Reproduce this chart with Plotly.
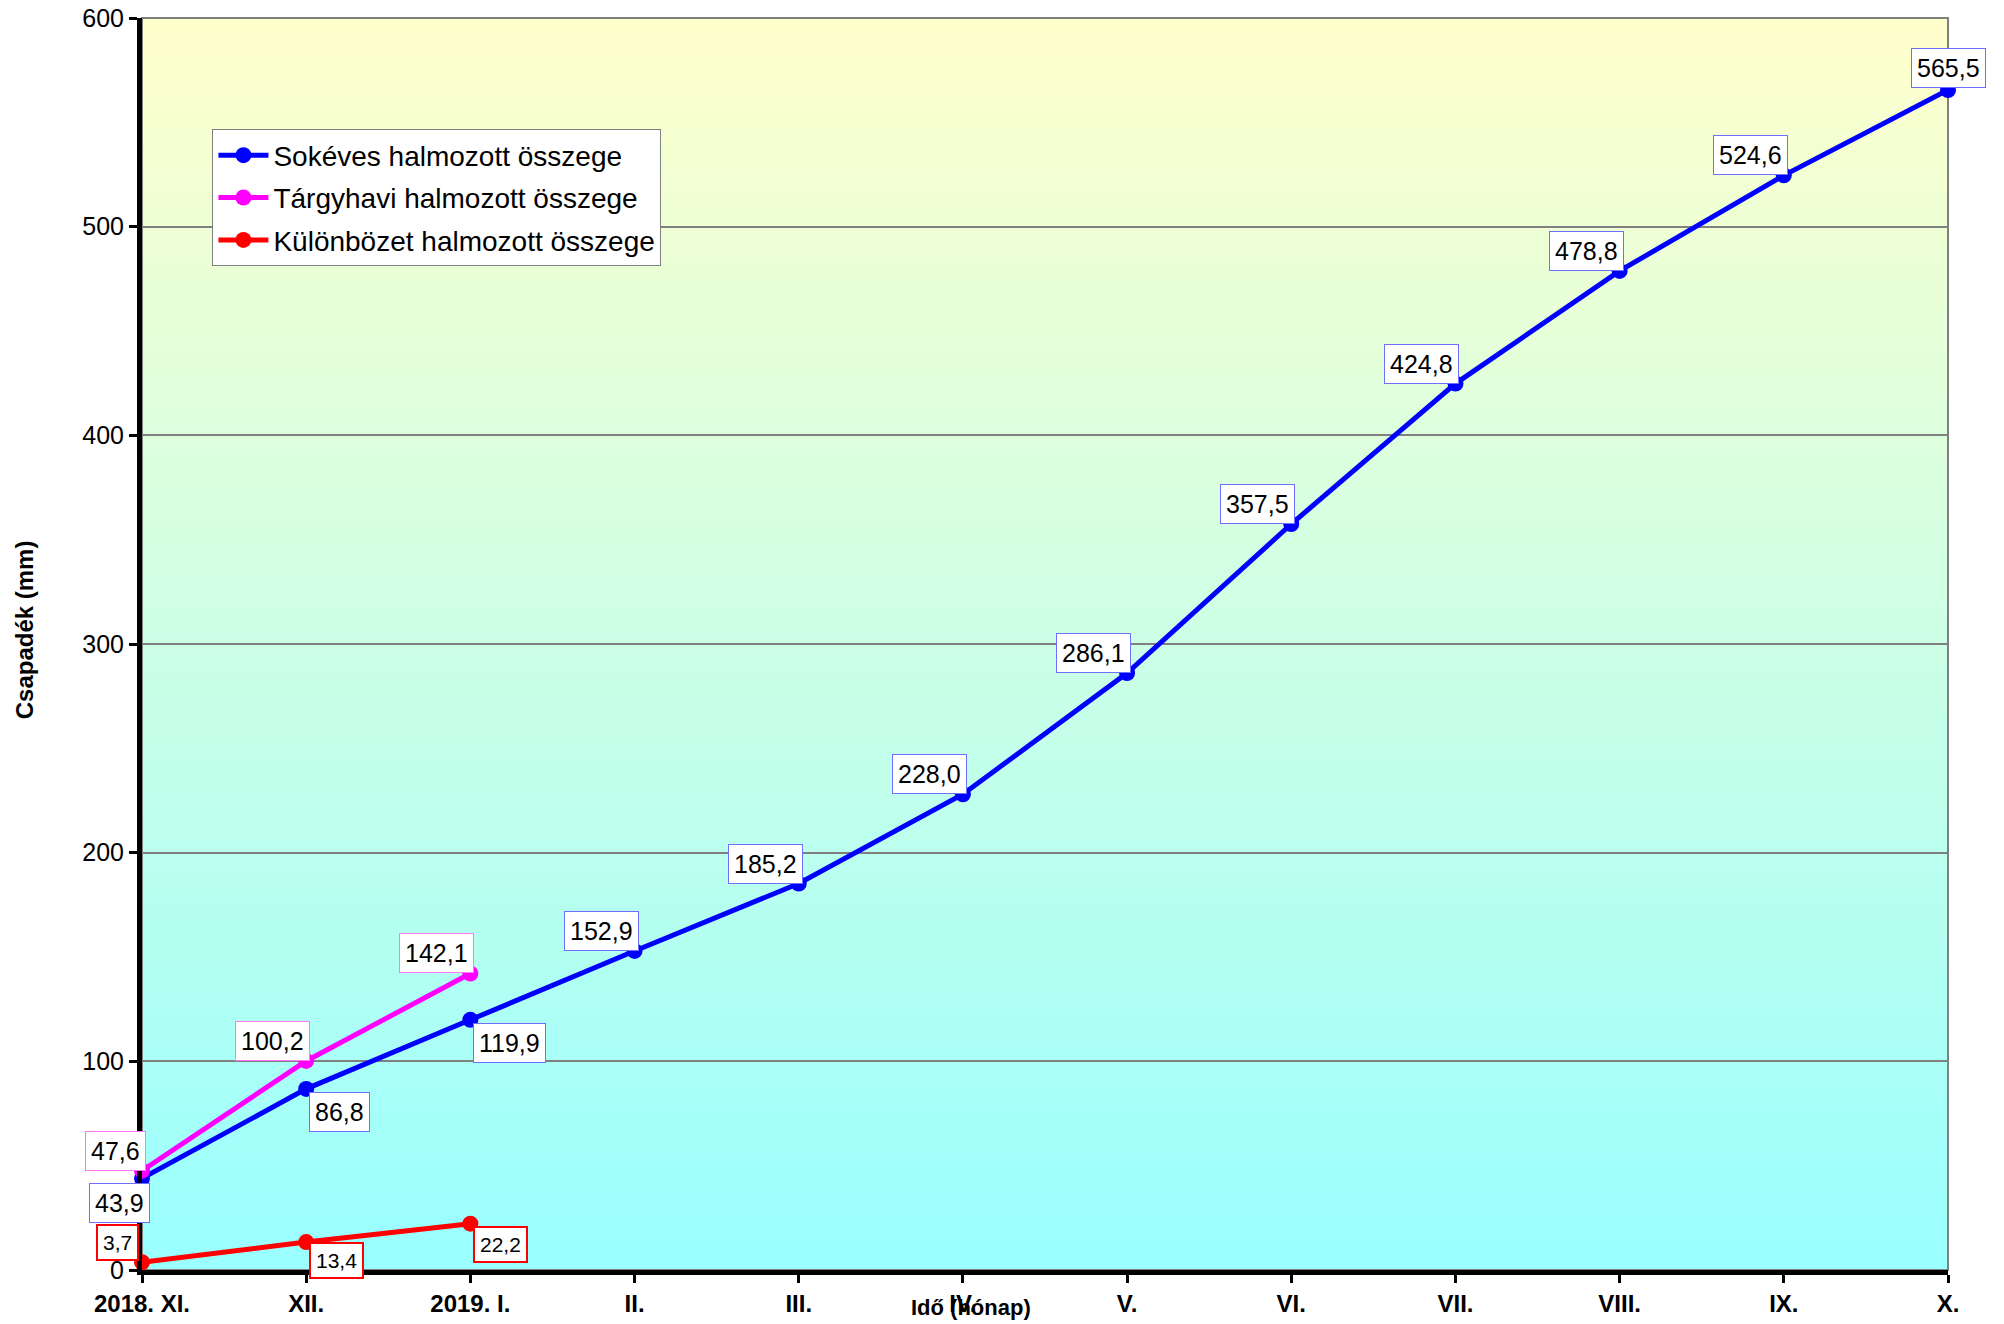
import plotly.graph_objects as go

# ---- data ----
months = ["2018. XI.", "XII.", "2019. I.", "II.", "III.", "IV.", "V.", "VI.",
          "VII.", "VIII.", "IX.", "X."]
sokeves = [43.9, 86.8, 119.9, 152.9, 185.2, 228.0, 286.1, 357.5, 424.8, 478.8, 524.6, 565.5]
targyhavi = [47.6, 100.2, 142.1]
kulonbozet = [3.7, 13.4, 22.2]
y_ticks = [0, 100, 200, 300, 400, 500, 600]

FONT = "Arial, Liberation Sans, Helvetica, sans-serif"
xs = list(range(len(months)))

fig = go.Figure()

series = [
    ("Sokéves halmozott összege", sokeves, "#0000FF"),
    ("Tárgyhavi halmozott összege", targyhavi, "#FF00FF"),
    ("Különbözet halmozott összege", kulonbozet, "#FF0000"),
]
for i, (name, vals, col) in enumerate(series):
    fig.add_trace(go.Scatter(
        x=xs[:len(vals)], y=vals, name=name, mode="lines+markers",
        line=dict(color=col, width=5), marker=dict(color=col, size=16),
        cliponaxis=False, legendgroup=f"g{i}", hoverinfo="skip",
    ))

# ---- label placement styles (per point) ----
# (xanchor, yanchor, xshift, yshift)
LA = ("right", "bottom", 4, 0)     # left-above
RB = ("left", "top", 3, -3)        # right-below
blue_place = [("right", "top", 8, -5), RB, RB] + [LA] * 8 + [("center", "bottom", 0, 2)]
mag_place = [LA, LA, LA]
red_place = [("right", "bottom", -3, 1), ("left", "top", 3, 0), ("left", "top", 3, -2)]

def fmt(v):
    return f"{v:.1f}".replace(".", ",")

annots = []
for vals, places, bcol, bw, fs in [
    (sokeves, blue_place, "#6F6FFF", 1, 25),
    (targyhavi, mag_place, "#FF77FF", 1, 25),
    (kulonbozet, red_place, "#FF0000", 2, 21),
]:
    for i, v in enumerate(vals):
        xa, ya, xsft, ysft = places[i]
        annots.append(dict(
            x=xs[i], y=v, xref="x", yref="y", text=fmt(v), showarrow=False,
            xanchor=xa, yanchor=ya, xshift=xsft, yshift=ysft,
            bgcolor="white", bordercolor=bcol, borderwidth=bw, borderpad=5,
            font=dict(family=FONT, size=fs, color="black"),
        ))

# axis titles
annots.append(dict(x=0.459, y=-0.0296, xref="paper", yref="paper", text="<b>Idő (hónap)</b>",
                   showarrow=False, xanchor="center", yanchor="middle",
                   font=dict(family=FONT, size=22, color="black")))
annots.append(dict(x=-0.0653, y=0.511, xref="paper", yref="paper", text="<b>Csapadék (mm)</b>",
                   showarrow=False, xanchor="center", yanchor="middle", textangle=-90,
                   font=dict(family=FONT, size=24, color="black")))

# ---- background gradient (light yellow top -> cyan bottom) ----
shapes = []
N = 120
top = (0xFF, 0xFF, 0xCC)
bot = (0x99, 0xFF, 0xFF)
for k in range(N):
    t = (k + 0.5) / N
    c = tuple(round(bot[j] + (top[j] - bot[j]) * t) for j in range(3))
    shapes.append(dict(type="rect", xref="paper", yref="paper",
                       x0=0, x1=1, y0=k / N, y1=min(1, (k + 1.6) / N),
                       fillcolor="rgb(%d,%d,%d)" % c, line=dict(width=0), layer="below"))
shapes.append(dict(type="rect", xref="paper", yref="paper", x0=0, x1=1, y0=0, y1=1,
                   line=dict(color="#808080", width=2), layer="below"))

fig.update_layout(
    width=2004, height=1324,
    margin=dict(l=142, r=56, t=18, b=54, autoexpand=False),
    paper_bgcolor="white", plot_bgcolor="rgba(0,0,0,0)",
    font=dict(family=FONT, color="black"),
    shapes=shapes, annotations=annots,
    showlegend=True,
    legend=dict(x=0.039, y=0.911, xanchor="left", yanchor="top",
                bgcolor="white", bordercolor="#808080", borderwidth=1,
                font=dict(family=FONT, size=28, color="black"),
                tracegroupgap=3, itemwidth=50),
    xaxis=dict(range=[0, len(months) - 1], tickmode="array", tickvals=xs, ticktext=months,
               showgrid=False, zeroline=False, showline=True, linecolor="black", linewidth=5,
               ticks="outside", ticklen=8, tickwidth=3, tickcolor="black", automargin=False,
               tickfont=dict(family=FONT, size=24, color="black", weight="bold")),
    yaxis=dict(range=[0, 600], tickmode="array", tickvals=y_ticks,
               showgrid=True, gridcolor="#808080", gridwidth=1.5, zeroline=False,
               showline=True, linecolor="black", linewidth=5, automargin=False,
               ticks="outside", ticklen=8, tickwidth=3, tickcolor="black",
               tickfont=dict(family=FONT, size=25, color="black")),
)

fig.write_html("out.html", config={"displayModeBar": False},
               post_script="document.body.style.margin='0';document.body.style.overflow='hidden';")
